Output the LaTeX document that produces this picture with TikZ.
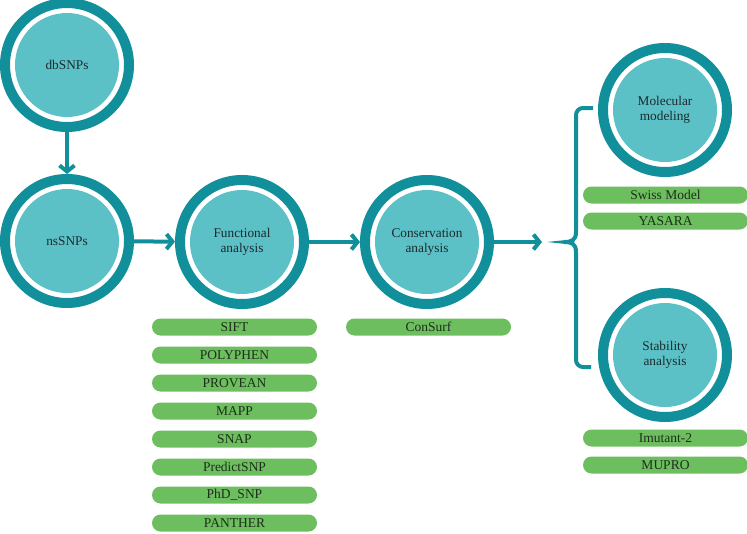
\documentclass[tikz,border=0pt]{standalone}
\usepackage{fontspec}
\setmainfont{Liberation Serif}
\usetikzlibrary{arrows.meta}
\definecolor{cring}{HTML}{11909B}
\definecolor{cfill}{HTML}{5CC1C7}
\definecolor{cgreen}{HTML}{6CBE5E}
\definecolor{ctext}{HTML}{1B2A2C}
\definecolor{gtext}{HTML}{1E2E1C}
\tikzset{
  x=1pt, y=-1pt,
  ringnode/.style={circle, draw=cring, line width=10pt, fill=white,
    minimum size=124pt, inner sep=0pt, align=center,
    font=\fontsize{13.3}{15.5}\selectfont, text=ctext,
    path picture={\fill[cfill] (path picture bounding box.center) circle (52pt);}},
  pill/.style={rectangle, rounded corners=8.5pt, fill=cgreen, minimum width=165pt,
    minimum height=17pt, inner sep=0pt, font=\fontsize{13.5}{15}\selectfont, text=gtext},
  conn/.style={draw=cring, line width=4pt, -{Straight Barb[length=6pt, width=15pt, line width=4pt]}},
  bracestroke/.style={draw=cring, line width=4pt},
}
\begin{document}
\begin{tikzpicture}
\useasboundingbox (0,0) rectangle (747,533);
\node[ringnode] (db) at (67,65) {dbSNPs};
\node[ringnode] (ns) at (67,241) {nsSNPs};
\node[ringnode] (fn) at (242,242) {Functional\\analysis};
\node[ringnode] (cs) at (427,242) {Conservation\\analysis};
\node[ringnode] (mm) at (665,110) {Molecular\\modeling};
\node[ringnode] (st) at (665,355) {Stability\\analysis};

\draw[conn] (db) -- (ns);
\draw[conn] (ns) -- (fn);
\draw[conn] (fn) -- (cs);
\coordinate (tip) at (542,242);
\draw[conn] (cs.east |- tip) -- (tip);

% brace
\coordinate (bp) at (547,242);
\coordinate (btop) at (593,108);
\coordinate (bbot) at (591,367);
\fill[cring] (bp) -- (566,240) -- (566,244) -- cycle;
\draw[bracestroke, rounded corners=7pt] (btop) -| (576,232);
\draw[bracestroke] (576,232) .. controls (576,240) and (572,242) .. (564,242);
\draw[bracestroke, rounded corners=7pt] (bbot) -| (576,252);
\draw[bracestroke] (576,252) .. controls (576,244) and (572,242) .. (564,242);

% functional tools
\node[pill] (p1) at (234.5,327) {SIFT};
\node[pill] (p2) at (234.5,355) {POLYPHEN};
\node[pill] (p3) at (234.5,383) {PROVEAN};
\node[pill] (p4) at (234.5,411) {MAPP};
\node[pill] (p5) at (234.5,439) {SNAP};
\node[pill] (p6) at (234.5,467) {PredictSNP};
\node[pill] (p7) at (234.5,495) {PhD\_SNP};
\node[pill] (p8) at (234.5,523) {PANTHER};

\node[pill] (c1) at (428.5,327) {ConSurf};

\node[pill] (m1) at (665.5,195) {Swiss Model};
\node[pill] (m2) at (665.5,221) {YASARA};

\node[pill] (s1) at (665.5,438) {Imutant-2};
\node[pill] (s2) at (665.5,465) {MUPRO};
\end{tikzpicture}
\end{document}
